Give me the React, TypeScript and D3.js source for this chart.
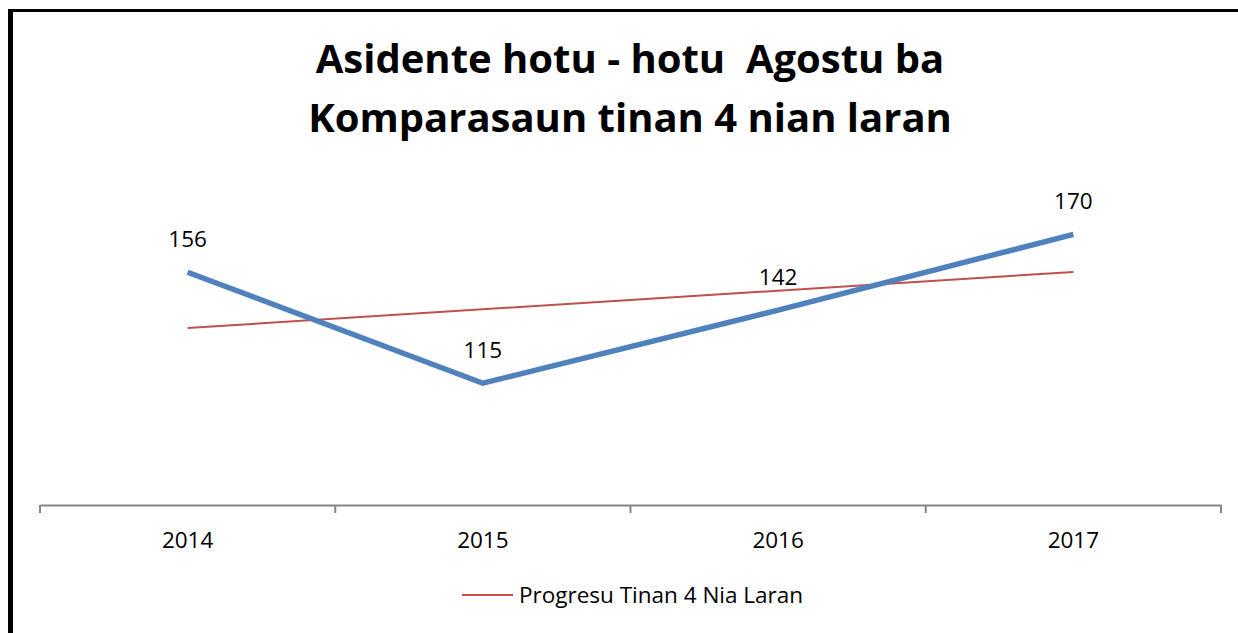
import React, { useEffect, useRef } from "react";
import * as d3 from "d3";

const years: string[] = ["2014", "2015", "2016", "2017"];
const values: number[] = [156, 115, 142, 170];
const titleLines: string[] = ["Asidente hotu - hotu  Agostu ba", "Komparasaun tinan 4 nian laran"];
const legendLabel = "Progresu Tinan 4 Nia Laran";

const W = 1238;
const H = 633;
const FONT = "Open Sans, Calibri, Carlito, sans-serif";
const FS = 22.5;

export default function App() {
  const ref = useRef<SVGSVGElement | null>(null);

  useEffect(() => {
    const svg = d3.select(ref.current);
    svg.selectAll("*").remove();

    // frame
    svg.append("line").attr("x1", 10.5).attr("x2", 10.5).attr("y1", 9).attr("y2", H)
      .attr("stroke", "#000").attr("stroke-width", 5);
    svg.append("line").attr("x1", 8).attr("x2", W).attr("y1", 10.5).attr("y2", 10.5)
      .attr("stroke", "#000").attr("stroke-width", 3);

    // title
    const title = svg.append("text").attr("text-anchor", "middle")
      .attr("font-family", FONT).attr("font-weight", "bold").attr("font-size", 40).attr("fill", "#000")
      .attr("xml:space", "preserve").style("white-space", "pre");
    titleLines.forEach((t, i) => {
      title.append("tspan").attr("x", 630).attr("y", 73 + i * 59).text(t);
    });

    const x = d3.scaleBand<string>().domain(years).range([40, 1221]).padding(0);
    const y = d3.scaleLinear().domain([70, 190]).range([505, 180.2]);
    const cx = (d: string) => (x(d) as number) + x.bandwidth() / 2;

    // axis
    const axis = d3.axisBottom(x).tickSize(0).tickFormat(() => "");
    const ax = svg.append("g").attr("transform", "translate(0,505)").call(axis as any);
    ax.select(".domain").attr("stroke", "#868686").attr("stroke-width", 2);
    const bounds = years.map((d) => x(d) as number).concat([x.range()[1]]);
    ax.selectAll(".bt").data(bounds).enter().append("line")
      .attr("x1", (d) => d).attr("x2", (d) => d).attr("y1", 0).attr("y2", 8)
      .attr("stroke", "#868686").attr("stroke-width", 2);
    ax.selectAll(".lbl").data(years).enter().append("text")
      .attr("x", (d) => cx(d)).attr("y", 43).attr("text-anchor", "middle")
      .attr("font-family", FONT).attr("font-size", FS).attr("fill", "#000").text((d) => d);

    // trendline (linear regression)
    const pts = values.map((v, i) => [i + 1, v] as [number, number]);
    const mx = d3.mean(pts, (p) => p[0]) as number;
    const my = d3.mean(pts, (p) => p[1]) as number;
    const slope = d3.sum(pts, (p) => (p[0] - mx) * (p[1] - my)) / d3.sum(pts, (p) => (p[0] - mx) ** 2);
    const trend = years.map((d, i) => ({ d, v: my + slope * (i + 1 - mx) }));
    const tl = [trend[0], trend[trend.length - 1]];
    svg.append("path")
      .attr("d", d3.line<{ d: string; v: number }>().x((p) => cx(p.d)).y((p) => y(p.v))(tl) as string)
      .attr("fill", "none").attr("stroke", "#C0504D").attr("stroke-width", 2);

    // main series
    const data = years.map((d, i) => ({ d, v: values[i] }));
    svg.append("path")
      .attr("d", d3.line<{ d: string; v: number }>().x((p) => cx(p.d)).y((p) => y(p.v))(data) as string)
      .attr("fill", "none").attr("stroke", "#4F81BD").attr("stroke-width", 5.5)
      .attr("stroke-linejoin", "round");

    svg.selectAll(".dl").data(data).enter().append("text")
      .attr("x", (p) => cx(p.d)).attr("y", (p) => y(p.v) - 25).attr("text-anchor", "middle")
      .attr("font-family", FONT).attr("font-size", FS).attr("fill", "#000").text((p) => String(p.v));

    // legend
    svg.append("line").attr("x1", 462).attr("x2", 513).attr("y1", 595).attr("y2", 595)
      .attr("stroke", "#C0504D").attr("stroke-width", 2);
    svg.append("text").attr("x", 519).attr("y", 603).attr("font-family", FONT)
      .attr("font-size", FS).attr("fill", "#000").text(legendLabel);
  }, []);

  return (
    <svg ref={ref} width={W} height={H}
      style={{ position: "absolute", left: 0, top: 0, display: "block", background: "#fff" }} />
  );
}
